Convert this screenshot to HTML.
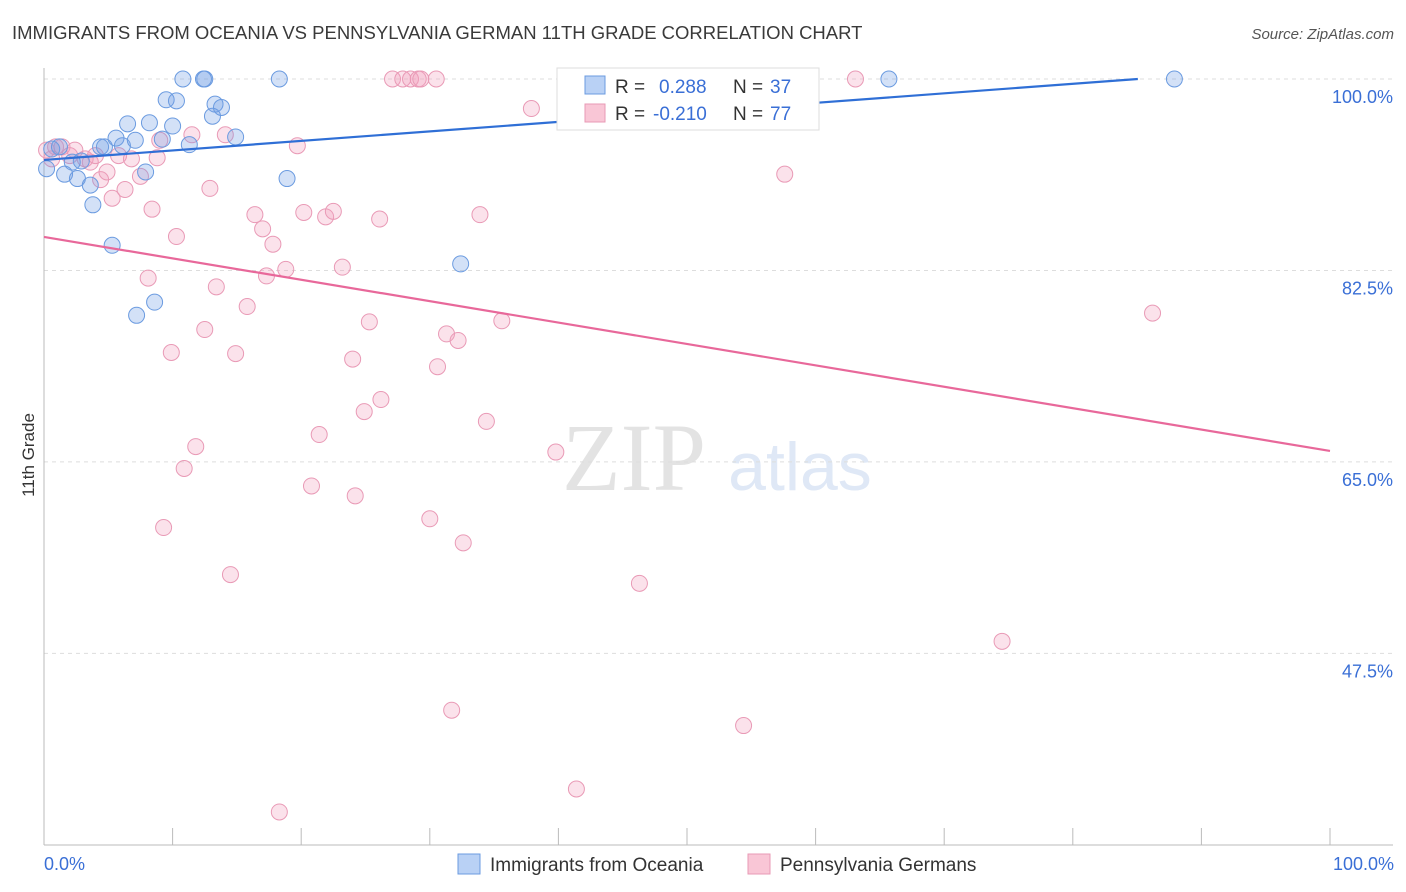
<!DOCTYPE html>
<html><head><meta charset="utf-8"><style>
body{margin:0;background:#fff;font-family:"Liberation Sans",sans-serif;}
svg{display:block}
</style></head><body>
<svg width="1406" height="892">
<text x="12" y="39" font-size="18.5" fill="#3a3a3a">IMMIGRANTS FROM OCEANIA VS PENNSYLVANIA GERMAN 11TH GRADE CORRELATION CHART</text>
<text x="1394" y="39" font-size="15" fill="#555" font-style="italic" text-anchor="end">Source: ZipAtlas.com</text>
<text x="634" y="490" font-size="96" fill="#e3e3e3" font-family="Liberation Serif,serif" text-anchor="middle">ZIP</text>
<text x="800" y="490" font-size="68" fill="#dfe8f6" text-anchor="middle">atlas</text>
<g id="grid"></g>
<g id="axes"></g>
<g id="pts"></g>
<g id="lines"></g>
<text x="34" y="455" font-size="17" fill="#333" transform="rotate(-90 34 455)" text-anchor="middle">11th Grade</text>
<g>
<rect x="557" y="68" width="262" height="62" fill="#fff" stroke="#ddd"/>
<rect x="585" y="76" width="20" height="18" fill="#b9d1f5" stroke="#6b9be0"/>
<rect x="585" y="104" width="20" height="18" fill="#f9c6d6" stroke="#e89ab5"/>
<text x="615" y="93" font-size="19" fill="#333">R =</text>
<text x="659" y="93" font-size="19" fill="#3a6fd6">0.288</text>
<text x="733" y="93" font-size="19" fill="#333">N =</text>
<text x="770" y="93" font-size="19" fill="#3a6fd6">37</text>
<text x="615" y="120" font-size="19" fill="#333">R =</text>
<text x="653" y="120" font-size="19" fill="#3a6fd6">-0.210</text>
<text x="733" y="120" font-size="19" fill="#333">N =</text>
<text x="770" y="120" font-size="19" fill="#3a6fd6">77</text>
</g>
<g>
<rect x="458" y="854" width="22" height="20" fill="#b9d1f5" stroke="#6b9be0"/>
<text x="490" y="871" font-size="19" fill="#333">Immigrants from Oceania</text>
<rect x="748" y="854" width="22" height="20" fill="#f9c6d6" stroke="#e89ab5"/>
<text x="780" y="871" font-size="19" fill="#333">Pennsylvania Germans</text>
</g>
<text x="44" y="870" font-size="18" fill="#3a6fd6">0.0%</text>
<text x="1394" y="870" font-size="18" fill="#3a6fd6" text-anchor="end">100.0%</text>
</svg>
<script>
const yTicks=[100,82.5,65,47.5];
const blueX=[0.2,0.6,1.2,1.6,2.2,2.6,2.9,3.6,3.8,4.4,4.7,5.3,5.6,6.1,6.5,7.1,7.2,7.9,8.2,8.6,9.2,9.5,10.0,10.3,10.8,11.3,12.4,12.5,13.1,13.3,13.8,14.9,18.3,18.9,32.4,65.7,87.9];
const blueY=[91.8,93.6,93.8,91.3,92.4,90.9,92.5,90.3,88.5,93.8,93.8,84.8,94.6,93.9,95.9,94.4,78.4,91.5,96.0,79.6,94.5,98.1,95.7,98.0,100,94.0,100,100,96.6,97.7,97.4,94.7,100,90.9,83.1,100,100];
const pinkX=[0.2,0.6,0.9,1.4,2.0,2.4,3.2,3.6,4.0,4.4,4.9,5.3,5.8,6.3,6.8,7.5,8.1,8.4,8.8,9.0,9.3,9.9,10.3,10.9,11.5,11.8,12.5,12.9,13.4,14.1,14.5,14.9,15.8,16.4,17.0,17.3,17.8,18.8,19.7,18.3,20.2,20.8,21.4,21.9,22.5,23.2,24.0,24.2,24.9,25.3,26.1,26.2,27.1,27.9,28.5,29.1,29.3,30.0,30.5,30.6,31.3,31.7,32.2,32.6,33.9,34.4,35.6,37.9,39.8,41.4,46.3,46.9,54.4,57.6,58.6,63.1,74.5,86.2,43.6];
const pinkY=[93.5,92.7,93.8,93.8,93.0,93.5,92.7,92.4,93.0,90.8,91.5,89.1,93.0,89.9,92.7,91.1,81.8,88.1,92.8,94.4,59.0,75.0,85.6,64.4,94.9,66.4,77.1,90.0,81.0,94.9,54.7,74.9,79.2,87.6,86.3,82.0,84.9,82.6,93.9,33.0,87.8,62.8,67.5,87.4,87.9,82.8,74.4,61.9,69.6,77.8,87.2,70.7,100,100,100,100,100,59.8,100,73.7,76.7,42.3,76.1,57.6,87.6,68.7,77.9,97.3,65.9,35.1,53.9,100,40.9,91.3,100,100,48.6,78.6,100];
const blueFit=[92.6,101.3];
const pinkFit=[85.56,66.0];
const NS="http://www.w3.org/2000/svg";
const X0=44,X1=1330,YT=79,PX=10.94;
const sx=v=>X0+(X1-X0)*v/100;
const sy=v=>YT+(100-v)*PX;
function mk(tag,attrs,parent){const e=document.createElementNS(NS,tag);for(const k in attrs)e.setAttribute(k,attrs[k]);parent.appendChild(e);return e;}
const grid=document.getElementById('grid'),axes=document.getElementById('axes'),pts=document.getElementById('pts'),lines=document.getElementById('lines');
yTicks.forEach(t=>{
 const l=mk('line',{x1:X0,x2:1393,y1:sy(t),y2:sy(t),stroke:'#ddd','stroke-dasharray':'4,4'},grid);
 
 
 const tx=mk('text',{x:1393,y:sy(t)+24,'font-size':18,fill:'#3a6fd6','text-anchor':'end'},grid);
 tx.textContent=t.toFixed(1)+'%';
 
 
});
const ya=mk('line',{x1:X0,x2:X0,y1:68,y2:845,stroke:'#bbb'},axes);


const xa=mk('line',{x1:X0,x2:1393,y1:845,y2:845,stroke:'#bbb'},axes);


for(let i=0;i<=10;i++){
 const tk=mk('line',{x1:sx(i*10),x2:sx(i*10),y1:828,y2:845,stroke:'#bbb'},axes);
 
 
}
pinkX.forEach((x,i)=>{
 const c=mk('circle',{cx:sx(x),cy:sy(pinkY[i]),r:8,fill:'rgba(243,160,190,0.3)',stroke:'#e99ab6','stroke-width':1},pts);
 
 
});
blueX.forEach((x,i)=>{
 const c=mk('circle',{cx:sx(x),cy:sy(blueY[i]),r:8,fill:'rgba(110,155,230,0.3)',stroke:'#6b9be0','stroke-width':1},pts);
 
 
});
let bx1=100,by1=blueFit[1];
if(by1>100){bx1=100*(100-blueFit[0])/(blueFit[1]-blueFit[0]);by1=100;}
const bl=mk('line',{x1:sx(0),y1:sy(blueFit[0]),x2:sx(bx1),y2:sy(by1),stroke:'#2f6fd6','stroke-width':2.2},lines);


const pl=mk('line',{x1:sx(0),y1:sy(pinkFit[0]),x2:sx(100),y2:sy(pinkFit[1]),stroke:'#e8689a','stroke-width':2.2},lines);


</script>
</body></html>
